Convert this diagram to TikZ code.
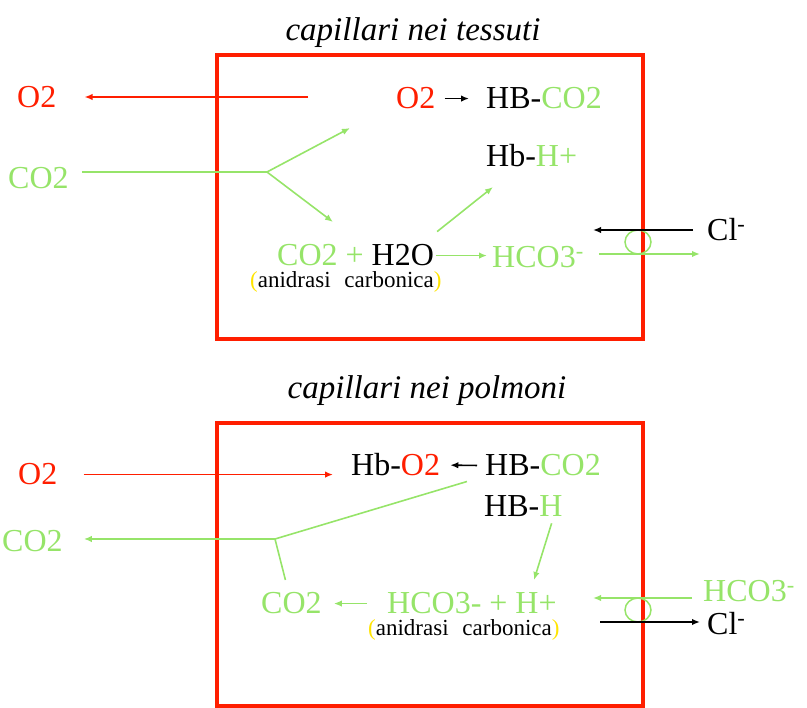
\documentclass[tikz,border=0pt]{standalone}
\usepackage{fontspec}
\setmainfont{Liberation Serif}
\usetikzlibrary{arrows.meta,shapes.geometric}
\definecolor{boxred}{RGB}{255,30,0}
\definecolor{lgreen}{RGB}{150,228,105}
\definecolor{pyellow}{RGB}{255,228,0}

\begin{document}
\begin{tikzpicture}[x=1pt,y=-1pt,
  txt/.style={inner sep=0pt, anchor=base west, font=\fontsize{32}{36}\selectfont},
  small/.style={inner sep=0pt, anchor=base west, font=\fontsize{23}{27}\selectfont},
  title/.style={inner sep=0pt, anchor=base, font=\fontsize{33}{38}\selectfont\itshape},
  cell/.style={draw=boxred, line width=4pt},
  redarrow/.style={draw=boxred, line width=1.6pt, -{Latex[length=8pt,width=6.5pt]}},
  grnarrow/.style={draw=lgreen, line width=1.6pt, -{Latex[length=8pt,width=6.5pt]}},
  grnline/.style={draw=lgreen, line width=1.6pt},
  blkarrow/.style={draw=black, line width=1.6pt, -{Latex[length=8pt,width=6.5pt]}},
  channel/.style={draw=lgreen, line width=1.5pt, ellipse, minimum width=26pt, minimum height=24pt, inner sep=0pt}
]
\useasboundingbox (0,0) rectangle (807,708);

% --- capillari nei tessuti ---
\node[title] (tt1) at (413,41) {capillari nei tessuti};
\draw[cell] (217,55) rectangle (643,339);

\node[txt, text=boxred] (o2out) at (17,108) {O2};
\node[txt, text=lgreen] (co2in) at (8,189) {CO2};
\node[txt, text=boxred] (o2hb) at (396,109) {O2};
\node[txt] (hbco2) at (486,109) {HB-\textcolor{lgreen}{CO2}};
\node[txt] (hbh) at (486,167) {Hb-\textcolor{lgreen}{H+}};
\node[txt] (react1) at (277,266) {\textcolor{lgreen}{CO2 +} H2O};
\node[small] (enz1) at (250,288) {\textcolor{pyellow}{(}anidrasi\hspace{0.6em}carbonica\textcolor{pyellow}{)}};
\node[txt, text=lgreen] (hco3) at (492,268) {HCO3\textsuperscript{-}};
\node[txt] (clt) at (707,241) {Cl\textsuperscript{-}};
\node[channel] (chan1) at (638,242) {};

% Draw arrows
\coordinate (o2src) at (308,97);
\draw[redarrow, shorten >=28pt] (o2src) -- (o2out.east |- o2src);
\draw[blkarrow, shorten <=9pt, shorten >=17pt] (o2hb.east) -- (hbco2.west);

\coordinate (fork1) at (267,172);
\coordinate (fork1up) at (350,128);
\coordinate (fork1dn) at (333,222);
\draw[grnline, shorten <=13pt] (co2in.east |- fork1) -- (fork1);
\draw[grnarrow] (fork1) -- (fork1up);
\draw[grnarrow] (fork1) -- (fork1dn);

\draw[grnarrow, shorten <=2pt, shorten >=5pt] (react1.east) -- (hco3.west |- react1.east);
\coordinate (hbhtip) at (493,187);
\draw[grnarrow] ([xshift=3pt,yshift=13pt]react1.north east) -- (hbhtip);

\coordinate (clin) at (593,230);
\draw[blkarrow, shorten <=14pt] (clt.west |- clin) -- (clin);
\coordinate (hco3out) at (700,254);
\draw[grnarrow, shorten <=15pt] (hco3.east |- hco3out) -- (hco3out);

% --- capillari nei polmoni ---
\node[title] (tt2) at (427,399) {capillari nei polmoni};
\draw[cell] (217,423) rectangle (643,706);

\node[txt, text=boxred] (o2in) at (18,485) {O2};
\node[txt, text=lgreen] (co2out) at (2,552) {CO2};
\node[txt] (hbo2) at (351,476) {Hb-\textcolor{boxred}{O2}};
\node[txt] (hbco2b) at (485,476) {HB-\textcolor{lgreen}{CO2}};
\node[txt] (hbhb) at (484,517) {HB-\textcolor{lgreen}{H}};
\node[txt, text=lgreen] (co2b) at (261,614) {CO2};
\node[txt, text=lgreen] (react2) at (387,614) {HCO3- + H+};
\node[small] (enz2) at (368,636) {\textcolor{pyellow}{(}anidrasi\hspace{0.6em}carbonica\textcolor{pyellow}{)}};
\node[txt, text=lgreen] (hco3r) at (703,602) {HCO3\textsuperscript{-}};
\node[txt] (clb) at (707,635) {Cl\textsuperscript{-}};
\node[channel] (chan2) at (638,610) {};

% Draw arrows
\draw[redarrow, shorten <=26pt, shorten >=18pt] (o2in.east) -- (o2in.east -| hbo2.west);
\draw[blkarrow, shorten <=8pt, shorten >=10pt] (hbco2b.west) -- (hbo2.east);

\coordinate (junc) at (275,539);
\draw[grnline] ([xshift=-18pt,yshift=-5pt]hbco2b.south west) -- (junc);
\draw[grnarrow, shorten >=21pt] (junc) -- (co2out.east |- junc);
\draw[grnline, shorten >=13pt] (junc) -- (co2b);

\coordinate (hhtip) at (534,580);
\draw[grnarrow] ([xshift=-11pt,yshift=-6pt]hbhb.south east) -- (hhtip);
\draw[grnarrow, shorten <=20pt, shorten >=12pt] (react2.west) -- (co2b.east);

\coordinate (hco3in) at (593,598);
\draw[grnarrow, shorten <=11pt] (hco3r.west |- hco3in) -- (hco3in);
\coordinate (clsrc) at (600,622);
\draw[blkarrow, shorten >=7pt] (clsrc) -- (clsrc -| clb.west);

\end{tikzpicture}
\end{document}
